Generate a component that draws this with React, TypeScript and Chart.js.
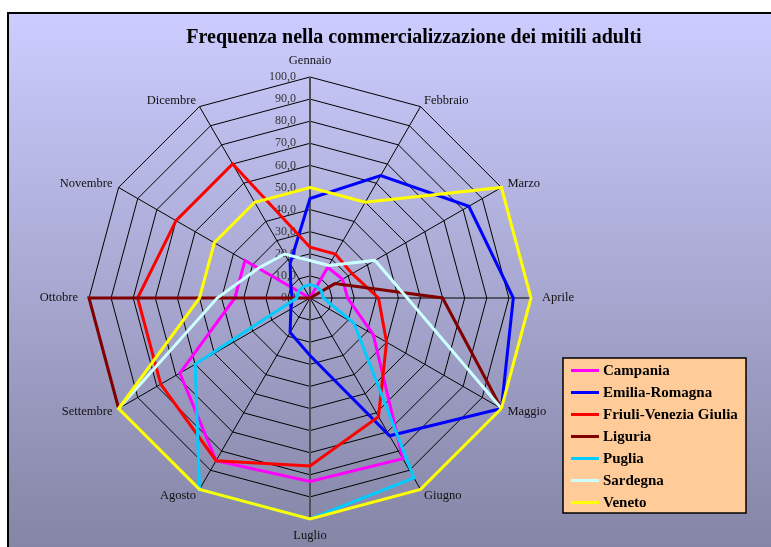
import React, { useEffect, useRef } from 'react';
import { Chart, registerables } from 'chart.js';

Chart.register(...registerables);

const TITLE = 'Frequenza nella commercializzazione dei mitili adulti';

const MONTHS = [
  'Gennaio', 'Febbraio', 'Marzo', 'Aprile', 'Maggio', 'Giugno',
  'Luglio', 'Agosto', 'Settembre', 'Ottobre', 'Novembre', 'Dicembre',
];

const SERIES_NAMES = [
  'Campania', 'Emilia-Romagna', 'Friuli-Venezia Giulia', 'Liguria',
  'Puglia', 'Sardegna', 'Veneto',
];

const SERIES_COLORS = [
  '#ff00ff', '#0000ff', '#ff0000', '#800000', '#00ccff', '#ccffff', '#ffff00',
];

const CAMPANIA = [0, 16, 17, 17, 33, 84, 83, 85, 68, 34, 34, 0];
const EMILIA_ROMAGNA = [45, 64, 83, 92, 100, 72, 26, 18, 10, 8, 10, 18];
const FRIULI_VENEZIA_GIULIA = [23, 23, 22, 31, 40, 62, 76, 85, 78, 78, 70, 70];
const LIGURIA = [0, 0, 13, 60, 100, null, null, null, 100, 100, 0, 0];
const PUGLIA = [6, 6, 6, 6, 23, 94, 100, 100, 60, 6, 6, 6];
const SARDEGNA = [17, 17, 34, 44, 100, null, null, null, 100, 42, 27, 23];
const VENETO = [50, 50, 100, 100, 100, 100, 100, 100, 100, 50, 50, 50];

const SERIES_DATA = [
  CAMPANIA, EMILIA_ROMAGNA, FRIULI_VENEZIA_GIULIA, LIGURIA, PUGLIA, SARDEGNA, VENETO,
];

const TICK_VALUES = [0, 10, 20, 30, 40, 50, 60, 70, 80, 90, 100];
const TICK_LABELS = ['0,0', '10,0', '20,0', '30,0', '40,0', '50,0', '60,0', '70,0', '80,0', '90,0', '100,0'];

const SERIF = '"Liberation Serif", "Times New Roman", Times, serif';

const decorPlugin = {
  id: 'decor',
  beforeDraw(chart: any) {
    const ctx = chart.ctx;
    const W = chart.width;
    const H = chart.height;
    ctx.save();
    ctx.fillStyle = '#ffffff';
    ctx.fillRect(0, 0, W, H);
    const g = ctx.createLinearGradient(0, 13, 0, H);
    g.addColorStop(0, '#ccccff');
    g.addColorStop(1, '#8585a6');
    ctx.fillStyle = g;
    ctx.fillRect(8, 13, W - 8, H - 13);
    ctx.strokeStyle = '#000000';
    ctx.lineWidth = 2;
    ctx.beginPath();
    ctx.moveTo(8, H + 4);
    ctx.lineTo(8, 13);
    ctx.lineTo(W + 4, 13);
    ctx.stroke();

    ctx.fillStyle = '#000000';
    ctx.font = `bold 20px ${SERIF}`;
    ctx.textAlign = 'center';
    ctx.textBaseline = 'middle';
    ctx.fillText(TITLE, 414, 38);
    ctx.restore();
  },
  beforeDatasetsDraw(chart: any) {
    const ctx = chart.ctx;
    const scale = chart.scales.r;
    const r = scale.drawingArea;
    ctx.save();
    // value axis line (vertical through the centre)
    const top = scale.getPointPosition(0, r);
    const bottom = scale.getPointPosition(6, r);
    ctx.strokeStyle = '#505050';
    ctx.lineWidth = 2;
    ctx.beginPath();
    ctx.moveTo(top.x, top.y);
    ctx.lineTo(bottom.x, bottom.y);
    ctx.stroke();

    // tick labels
    ctx.fillStyle = '#333333';
    ctx.font = `12px ${SERIF}`;
    ctx.textAlign = 'right';
    ctx.textBaseline = 'middle';
    TICK_VALUES.forEach((v, i) => {
      const p = scale.getPointPositionForValue(0, v);
      ctx.fillText(TICK_LABELS[i], p.x - 14, p.y);
    });
    ctx.restore();
  },
  afterDraw(chart: any) {
    const ctx = chart.ctx;
    const scale = chart.scales.r;
    const r = scale.drawingArea;
    ctx.save();
    // point labels
    ctx.fillStyle = '#111111';
    ctx.font = `12.5px ${SERIF}`;
    MONTHS.forEach((m, i) => {
      const a = scale.getIndexAngle(i);
      const s = Math.sin(a);
      const c = Math.cos(a);
      let d = r + 7;
      if (Math.abs(c) > 0.99) d = r + 10;
      else if (Math.abs(s) > 0.99) d = r + 11;
      const p = scale.getPointPosition(i, d);
      if (Math.abs(s) < 0.01) {
        ctx.textAlign = 'center';
        ctx.textBaseline = c > 0 ? 'bottom' : 'top';
      } else {
        ctx.textAlign = s > 0 ? 'left' : 'right';
        ctx.textBaseline = 'middle';
      }
      ctx.fillText(m, p.x, p.y);
    });

    // legend
    const lx = 563;
    const ly = 358;
    const lw = 183;
    const lh = 155;
    ctx.fillStyle = '#ffcc99';
    ctx.fillRect(lx, ly, lw, lh);
    ctx.strokeStyle = '#000000';
    ctx.lineWidth = 1.5;
    ctx.strokeRect(lx, ly, lw, lh);
    ctx.font = `bold 15px ${SERIF}`;
    ctx.textAlign = 'left';
    ctx.textBaseline = 'middle';
    SERIES_NAMES.forEach((name, i) => {
      const y = 370.5 + 22 * i;
      ctx.strokeStyle = SERIES_COLORS[i];
      ctx.lineWidth = 3;
      ctx.beginPath();
      ctx.moveTo(571, y);
      ctx.lineTo(599, y);
      ctx.stroke();
      ctx.fillStyle = '#000000';
      ctx.fillText(name, 603, y + 1);
    });
    ctx.restore();
  },
};

export default function App() {
  const canvasRef = useRef<HTMLCanvasElement | null>(null);

  useEffect(() => {
    const canvas = canvasRef.current;
    if (!canvas) return;
    const n = SERIES_NAMES.length;
    const chart = new Chart(canvas, {
      type: 'radar',
      data: {
        labels: MONTHS,
        datasets: SERIES_NAMES.map((name, i) => ({
          label: name,
          data: SERIES_DATA[i],
          borderColor: SERIES_COLORS[i],
          backgroundColor: SERIES_COLORS[i],
          borderWidth: 3,
          fill: false,
          pointRadius: 0,
          pointHoverRadius: 0,
          tension: 0,
          spanGaps: false,
          order: n - 1 - i,
        })),
      },
      options: {
        responsive: false,
        animation: false,
        devicePixelRatio: 1,
        layout: { padding: { left: 89, top: 77, right: 240, bottom: 28 } },
        plugins: {
          legend: { display: false },
          title: { display: false },
          tooltip: { enabled: false },
        },
        scales: {
          r: {
            min: 0,
            max: 100,
            beginAtZero: true,
            ticks: { display: false, stepSize: 10 },
            grid: { color: '#000000', lineWidth: 1, circular: false },
            angleLines: { color: '#000000', lineWidth: 1 },
            pointLabels: { display: false },
          },
        },
      },
      plugins: [decorPlugin],
    } as any);
    return () => chart.destroy();
  }, []);

  return (
    <div style={{ position: 'fixed', left: 0, top: 0, width: 771, height: 547, overflow: 'hidden', background: '#fff' }}>
      <canvas ref={canvasRef} width={771} height={547} style={{ display: 'block', width: 771, height: 547 }} />
    </div>
  );
}
